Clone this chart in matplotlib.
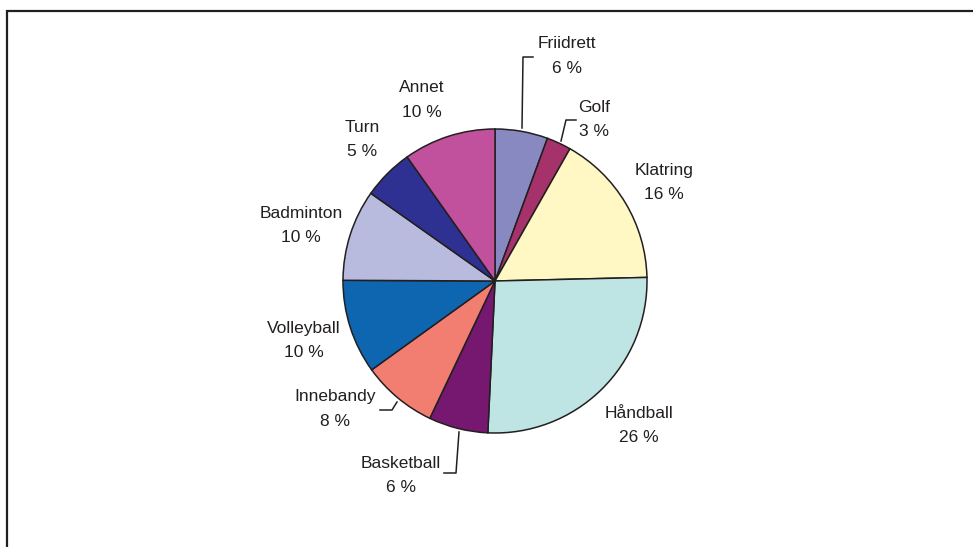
import matplotlib.pyplot as plt
from matplotlib.patches import Rectangle

plt.rcParams['font.family'] = ['Liberation Sans', 'DejaVu Sans']

# Data (share in %, clockwise from 12 o'clock)
sports = ['Friidrett', 'Golf', 'Klatring', 'Håndball', 'Basketball',
          'Innebandy', 'Volleyball', 'Badminton', 'Turn', 'Annet']
shares = [5.6, 2.6, 16.4, 26.1, 6.3, 8.0, 10.0, 9.7, 5.4, 9.8]
colors = ['#8789C0', '#A5326A', '#FFF8C4', '#BFE4E4', '#76186F',
          '#F27E72', '#0E66B0', '#B8BBDD', '#2E3192', '#C2519D']

W, H = 973, 547
fig = plt.figure(figsize=(W / 100, H / 100), dpi=100)
ax = fig.add_axes([0, 0, 1, 1])
ax.set_xlim(0, W)
ax.set_ylim(0, H)
ax.axis('off')

ink = '#231F20'

# Frame (only left and top visible in the picture)
ax.add_patch(Rectangle((7, -20), W + 40, H - 11 + 20, fill=False,
                       edgecolor=ink, linewidth=1.6))

ax.pie(shares, colors=colors, startangle=90, counterclock=False,
       center=(495, H - 281), radius=152, frame=True,
       wedgeprops=dict(edgecolor=ink, linewidth=1.1))
ax.set_xlim(0, W)
ax.set_ylim(0, H)
ax.set_aspect('equal')
ax.axis('off')

# label positions (pixel, top-down)
label_pos = {
    'Friidrett': (567, 44), 'Golf': (594, 107), 'Klatring': (664, 170),
    'Håndball': (639, 413), 'Basketball': (401, 463), 'Innebandy': (335, 397),
    'Volleyball': (304, 328), 'Badminton': (301, 213), 'Turn': (362, 127),
    'Annet': (422, 88),
}
total = sum(shares)
for name, val in zip(sports, shares):
    x, y = label_pos[name]
    ax.text(x, H - y, name, ha='center', va='center', fontsize=12.5, color=ink)
    ax.text(x, H - y - 24.5, f'{val / total * 100:.0f} %', ha='center',
            va='center', fontsize=12.5, color=ink)

# leader lines
leaders = [
    [(533, 57), (523, 57), (522, 128)],
    [(576, 120), (566, 120), (561, 141)],
    [(444, 473), (456, 473), (459, 432)],
    [(380, 410), (392, 410), (397, 402)],
]
for pts in leaders:
    ax.plot([p[0] for p in pts], [H - p[1] for p in pts], color=ink, linewidth=1.1)

fig.savefig('out.png', dpi=100)
